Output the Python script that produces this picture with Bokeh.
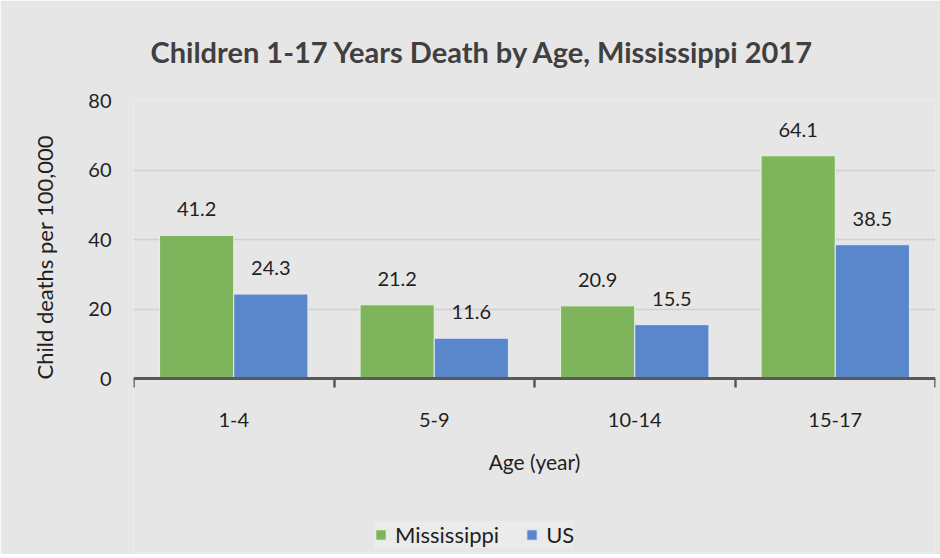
from bokeh.plotting import figure
from bokeh.models import (Range1d, LinearAxis, FixedTicker, Title,
                          ColumnDataSource, Legend, LegendItem)
from bokeh.transform import dodge
from bokeh.embed import file_html
from bokeh.resources import INLINE
from bokeh.core.properties import value

# ---- data ----
ages = ["1-4", "5-9", "10-14", "15-17"]
mississippi = [41.2, 21.2, 20.9, 64.1]
us = [24.3, 11.6, 15.5, 38.5]
y_ticks = [0, 20, 40, 60, 80]
title_text = "Children 1-17 Years Death by Age, Mississippi 2017"
y_label = "Child deaths per 100,000"
x_label = "Age (year)"

FONT = "Lato"
BG = "#e7e6e6"
GREEN = "#7db45c"
BLUE = "#5a86cc"
TXT = "#1f1f1f"

# category slots: centre of slot i is i + 0.5
pos = [i + 0.5 for i in range(len(ages))]
edges = list(range(len(ages) + 1))

# layout: plot area 278px tall for 0..80, plus 174px below the zero line
PLOT_H, BELOW_H = 278, 174
y_lo = -y_ticks[-1] * BELOW_H / PLOT_H

src = ColumnDataSource(dict(
    pos=pos, ms=mississippi, us=us,
    ms_lbl=[f"{v:.1f}" for v in mississippi],
    us_lbl=[f"{v:.1f}" for v in us],
))

p = figure(x_range=Range1d(0, len(ages)), y_range=Range1d(y_lo, y_ticks[-1]),
           frame_width=802, frame_height=PLOT_H + BELOW_H,
           min_border_left=128, min_border_right=8, min_border_top=100, min_border_bottom=2,
           x_axis_location=None, output_backend="svg", toolbar_location=None)
p.background_fill_color = BG
p.border_fill_color = BG
p.outline_line_color = None

# title
p.title.text = title_text
p.title.align = "left"
p.title.offset = 17
p.title.standoff = 63
p.title.text_font = FONT
p.title.text_font_size = "29px"
p.title.text_font_style = "bold"
p.title.text_color = "#404040"

# y axis
p.yaxis.ticker = FixedTicker(ticks=y_ticks)
p.yaxis.axis_line_color = None
p.yaxis.major_tick_line_color = None
p.yaxis.minor_tick_line_color = None
p.yaxis.major_label_standoff = 16
p.yaxis.major_label_text_font = FONT
p.yaxis.major_label_text_font_size = "20px"
p.yaxis.major_label_text_color = TXT

# y axis title (rotated, in left panel)
p.add_layout(Title(text=y_label, align="left", offset=173, standoff=56,
                   text_font=FONT, text_font_size="22px", text_font_style="normal",
                   text_color=TXT), "left")

p.xgrid.grid_line_color = None
p.ygrid.ticker = FixedTicker(ticks=y_ticks)
p.ygrid.grid_line_color = "#d0d0d0"
p.ygrid.grid_line_width = 1.5

# bars
r_ms = p.vbar(x=dodge("pos", -0.185), top="ms", bottom=0, width=0.37, source=src,
              fill_color=GREEN, line_color="#e9f1e4", line_width=1)
r_us = p.vbar(x=dodge("pos", 0.185), top="us", bottom=0, width=0.37, source=src,
              fill_color=BLUE, line_color="#e4eaf4", line_width=1)

# value labels
p.text(x=dodge("pos", -0.185), y="ms", text="ms_lbl", source=src,
       y_offset=-26, text_align="center", text_baseline="middle",
       text_font=value(FONT), text_font_size="20px", text_color=TXT)
p.text(x=dodge("pos", 0.185), y="us", text="us_lbl", source=src,
       y_offset=-26, text_align="center", text_baseline="middle",
       text_font=value(FONT), text_font_size="20px", text_color=TXT)

# x axis line at zero with boundary ticks (no labels)
edge_axis = LinearAxis(fixed_location=0, ticker=FixedTicker(ticks=edges),
                       major_label_overrides={e: "" for e in edges},
                       axis_line_color="#595959", axis_line_width=3,
                       major_tick_line_color="#595959", major_tick_line_width=2.5,
                       major_tick_in=0, major_tick_out=9,
                       minor_tick_line_color=None,
                       major_label_text_font_size="1px", major_label_standoff=0)
p.add_layout(edge_axis, "below")

# category labels + axis title
cat_axis = LinearAxis(fixed_location=0, ticker=FixedTicker(ticks=pos),
                      major_label_overrides={c: a for c, a in zip(pos, ages)},
                      axis_line_color=None, major_tick_line_color=None,
                      minor_tick_line_color=None, major_tick_out=0, major_tick_in=0,
                      major_label_standoff=34,
                      major_label_text_font=FONT, major_label_text_font_size="20px",
                      major_label_text_color=TXT,
                      axis_label=x_label, axis_label_standoff=19,
                      axis_label_text_font=FONT, axis_label_text_font_size="21px",
                      axis_label_text_font_style="normal", axis_label_text_color=TXT)
p.add_layout(cat_axis, "below")

# legend (inside the lower part of the frame)
legend = Legend(items=[LegendItem(label="Mississippi", renderers=[r_ms]),
                       LegendItem(label="US", renderers=[r_us])],
                orientation="horizontal", location=(241, 4),
                background_fill_color="#ebebeb", background_fill_alpha=1,
                border_line_color=None, glyph_width=13, glyph_height=13,
                label_text_font=FONT, label_text_font_size="22px", label_text_color=TXT,
                label_standoff=8, spacing=26, padding=12, margin=0)
p.add_layout(legend, "center")

open("out.html", "w").write(file_html(p, INLINE))
